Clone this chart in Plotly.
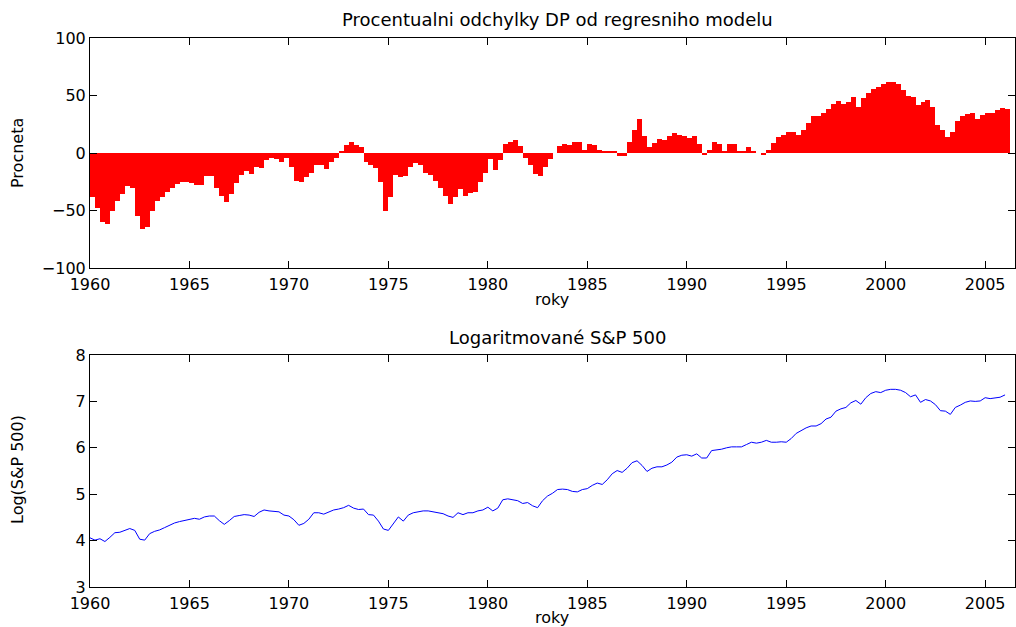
import numpy as np
import plotly.graph_objects as go

# Quarterly time index (decimal years, quarter starts) 1960.00 .. 2006.00
quarters = list(np.arange(1960.0, 2006.001, 0.25))

# Percent deviation of D/P from regression model (quarterly readings)
deviation = [
    -38, -48, -60, -62,   # 1960
    -50, -42, -36, -29,   # 1961
    -30, -55, -66, -64,   # 1962
    -50, -42, -38, -34,   # 1963
    -30, -27, -25, -25,   # 1964
    -26, -28, -28, -20,   # 1965
    -20, -30, -37, -43,   # 1966
    -36, -26, -19, -16,   # 1967
    -18, -12, -13, -6,    # 1968
    -4, -5, -8, -4,       # 1969
    -12, -24, -25, -21,   # 1970
    -17, -10, -10, -14,   # 1971
    -8, -4, 1, 7,         # 1972
    10, 7, 5, -8,         # 1973
    -10, -13, -25, -50,   # 1974
    -38, -19, -21, -20,   # 1975
    -12, -9, -10, -17,    # 1976
    -19, -24, -30, -37,   # 1977
    -44, -38, -31, -37,   # 1978
    -35, -34, -25, -17,   # 1979
    -5, -15, -6, 8,       # 1980
    10, 11, 6, -4,        # 1981
    -10, -18, -20, -12,   # 1982
    -5, 0, 6, 8,          # 1983
    7, 10, 10, 3,         # 1984
    8, 7, 3, 1,           # 1985
    1, 1, -3, -3,         # 1986
    10, 20, 30, 15,       # 1987
    5, 9, 12, 11,         # 1988
    15, 17, 16, 15,       # 1989
    13, 15, 8, -2,        # 1990
    3, 10, 8, 2,          # 1991
    8, 8, 1, 2,           # 1992
    5, 1, 0, -2,          # 1993
    3, 9, 14, 16,         # 1994
    18, 18, 16, 20,       # 1995
    26, 32, 32, 35,       # 1996
    38, 43, 45, 43,       # 1997
    44, 49, 40, 48,       # 1998
    52, 56, 57, 60,       # 1999
    62, 62, 60, 55,       # 2000
    50, 49, 42, 44,       # 2001
    46, 40, 24, 20,       # 2002
    14, 18, 28, 32,       # 2003
    34, 35, 30, 33,       # 2004
    35, 35, 37, 39,       # 2005
    38,                   # 2006
]

# Log of S&P 500 (quarterly readings)
log_sp500 = [
    4.06, 4.01, 4.04, 3.98,   # 1960
    4.07, 4.17, 4.18, 4.22,   # 1961
    4.26, 4.22, 4.03, 4.01,   # 1962
    4.15, 4.20, 4.23, 4.28,   # 1963
    4.33, 4.38, 4.41, 4.43,   # 1964
    4.46, 4.48, 4.46, 4.51,   # 1965
    4.53, 4.53, 4.43, 4.35,   # 1966
    4.43, 4.52, 4.54, 4.56,   # 1967
    4.55, 4.52, 4.61, 4.66,   # 1968
    4.64, 4.63, 4.62, 4.55,   # 1969
    4.53, 4.45, 4.33, 4.37,   # 1970
    4.46, 4.60, 4.60, 4.57,   # 1971
    4.62, 4.66, 4.68, 4.71,   # 1972
    4.76, 4.70, 4.67, 4.68,   # 1973
    4.56, 4.55, 4.42, 4.25,   # 1974
    4.22, 4.36, 4.51, 4.42,   # 1975
    4.55, 4.60, 4.62, 4.64,   # 1976
    4.64, 4.62, 4.60, 4.58,   # 1977
    4.53, 4.50, 4.60, 4.56,   # 1978
    4.60, 4.60, 4.64, 4.66,   # 1979
    4.72, 4.64, 4.70, 4.88,   # 1980
    4.90, 4.88, 4.86, 4.80,   # 1981
    4.82, 4.75, 4.71, 4.86,   # 1982
    4.96, 5.02, 5.10, 5.11,   # 1983
    5.10, 5.06, 5.05, 5.10,   # 1984
    5.12, 5.19, 5.24, 5.21,   # 1985
    5.31, 5.44, 5.51, 5.47,   # 1986
    5.56, 5.68, 5.72, 5.62,   # 1987
    5.49, 5.56, 5.59, 5.59,   # 1988
    5.63, 5.69, 5.80, 5.84,   # 1989
    5.85, 5.82, 5.87, 5.78,   # 1990
    5.78, 5.94, 5.95, 5.97,   # 1991
    6.00, 6.02, 6.02, 6.02,   # 1992
    6.07, 6.12, 6.10, 6.12,   # 1993
    6.16, 6.12, 6.12, 6.13,   # 1994
    6.12, 6.20, 6.31, 6.37,   # 1995
    6.43, 6.47, 6.47, 6.52,   # 1996
    6.62, 6.66, 6.79, 6.84,   # 1997
    6.87, 6.97, 7.02, 6.94,   # 1998
    7.08, 7.17, 7.21, 7.19,   # 1999
    7.24, 7.26, 7.26, 7.24,   # 2000
    7.19, 7.10, 7.14, 6.98,   # 2001
    7.04, 7.01, 6.93, 6.80,   # 2002
    6.79, 6.72, 6.87, 6.92,   # 2003
    6.98, 7.01, 7.00, 7.01,   # 2004
    7.08, 7.06, 7.08, 7.09,   # 2005
    7.14,                     # 2006
]

year_ticks = [1960, 1965, 1970, 1975, 1980, 1985, 1990, 1995, 2000, 2005]
top_yticks = [-100, -50, 0, 50, 100]
bottom_yticks = [3, 4, 5, 6, 7, 8]

title_top = "Procentualni odchylky DP od regresniho modelu"
title_bottom = "Logaritmované S&P 500"
xlabel = "roky"
ylabel_top = "Procneta"
ylabel_bottom = "Log(S&P 500)"

W, H = 1016, 627
ML, MR, MT, MB = 90, 1, 38, 40
PW = W - ML - MR
PH = H - MT - MB


def px(x):
    return (x - ML) / PW


def py(y):
    return (H - MB - y) / PH


FONT = "DejaVu Sans, Liberation Sans, Arial, sans-serif"

fig = go.Figure()
fig.add_trace(go.Bar(
    x=quarters, y=deviation, width=0.25, offset=0,
    marker=dict(color="#ff0000", line=dict(width=0)),
    xaxis="x", yaxis="y", showlegend=False, hoverinfo="skip",
))
fig.add_trace(go.Scatter(
    x=quarters, y=log_sp500, mode="lines",
    line=dict(color="#0000ff", width=1),
    xaxis="x2", yaxis="y2", showlegend=False, hoverinfo="skip",
))

axis_common = dict(
    showline=True, linecolor="black", linewidth=1, mirror="ticks",
    ticks="inside", ticklen=7, tickcolor="black", tickwidth=1,
    showgrid=False, zeroline=False, automargin=False,
    tickfont=dict(family=FONT, size=16, color="black"),
)

top_dom = [py(268), 1.0]
bot_dom = [0.0, py(355)]

fig.update_layout(
    width=W, height=H,
    margin=dict(l=ML, r=MR, t=MT, b=MB, autoexpand=False),
    paper_bgcolor="white", plot_bgcolor="white",
    bargap=0,
    font=dict(family=FONT, size=16, color="black"),
    xaxis=dict(range=[1960, 2006.5], tickvals=year_ticks, domain=[0, 1],
               anchor="y", ticklabelstandoff=2, **axis_common),
    yaxis=dict(range=[-100, 100], tickvals=top_yticks, domain=top_dom,
               anchor="x", **axis_common),
    xaxis2=dict(range=[1960, 2006.5], tickvals=year_ticks, domain=[0, 1],
                anchor="y2", ticklabelstandoff=2, **axis_common),
    yaxis2=dict(range=[3, 8], tickvals=bottom_yticks, domain=bot_dom,
                anchor="x2", **axis_common),
)

ann = dict(xref="paper", yref="paper", showarrow=False,
           xanchor="center", yanchor="middle")
title_font = dict(family=FONT, size=18, color="black")
label_font = dict(family=FONT, size=16, color="black")
fig.add_annotation(text=title_top, x=px(557), y=py(20), font=title_font, **ann)
fig.add_annotation(text=title_bottom, x=px(557), y=py(337), font=title_font, **ann)
fig.add_annotation(text=xlabel, x=px(552), y=py(299), font=label_font, **ann)
fig.add_annotation(text=xlabel, x=px(552), y=py(617), font=label_font, **ann)
fig.add_annotation(text=ylabel_top, x=px(17), y=py(153), textangle=-90,
                   font=label_font, **ann)
fig.add_annotation(text=ylabel_bottom, x=px(17), y=py(470), textangle=-90,
                   font=label_font, **ann)

fig.write_html(
    "out.html",
    config={"displayModeBar": False},
    post_script="document.body.style.margin='0px';document.body.style.overflow='hidden';",
)
